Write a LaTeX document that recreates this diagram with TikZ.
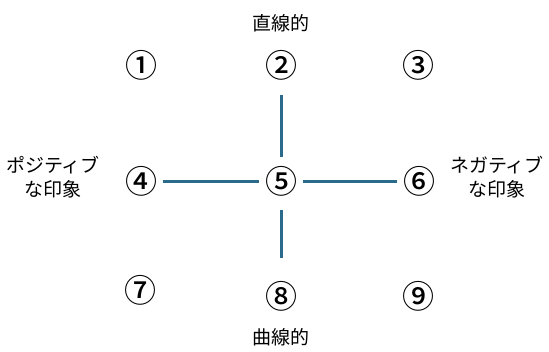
\documentclass[tikz,border=0pt]{standalone}
\usepackage{fontspec}
\setmainfont{Noto Sans CJK JP}
\newfontfamily\circfont{Noto Sans CJK JP Medium}
\begin{document}
\begin{tikzpicture}[x=1pt,y=-1pt,
  num/.style={font=\circfont\fontsize{32}{32}\selectfont, inner sep=0pt},
  lab/.style={font=\fontsize{19}{24}\selectfont, align=center, inner sep=0pt},
  axis/.style={draw=axisblue, line width=3pt}]
\definecolor{axisblue}{HTML}{2A6A8A}
\useasboundingbox (0,0) rectangle (549,351);
\node[num] (n1) at (141,65) {①};
\node[num] (n2) at (281,65) {②};
\node[num] (n3) at (418,65) {③};
\node[num] (n4) at (141,181) {④};
\node[num] (n5) at (281,181) {⑤};
\node[num] (n6) at (419,181) {⑥};
\node[num] (n7) at (140,290) {⑦};
\node[num] (n8) at (281,296) {⑧};
\node[num] (n9) at (418,296) {⑨};
\node[lab] (top) at (281,23) {直線的};
\node[lab] (bot) at (281,337) {曲線的};
\node[lab] (left) at (53,177) {ポジティブ\\な印象};
\node[lab] (right) at (497,177) {ネガティブ\\な印象};
\coordinate (a1) at (281,95);
\coordinate (a2) at (281,157);
\coordinate (b1) at (281,210);
\coordinate (b2) at (281,258);
\draw[axis] (a1) -- (a2);
\draw[axis] (b1) -- (b2);
\draw[axis] ([xshift=6]n4.east) -- ([xshift=-6]n5.west);
\draw[axis] ([xshift=6]n5.east) -- ([xshift=-6]n6.west);
\end{tikzpicture}
\end{document}
